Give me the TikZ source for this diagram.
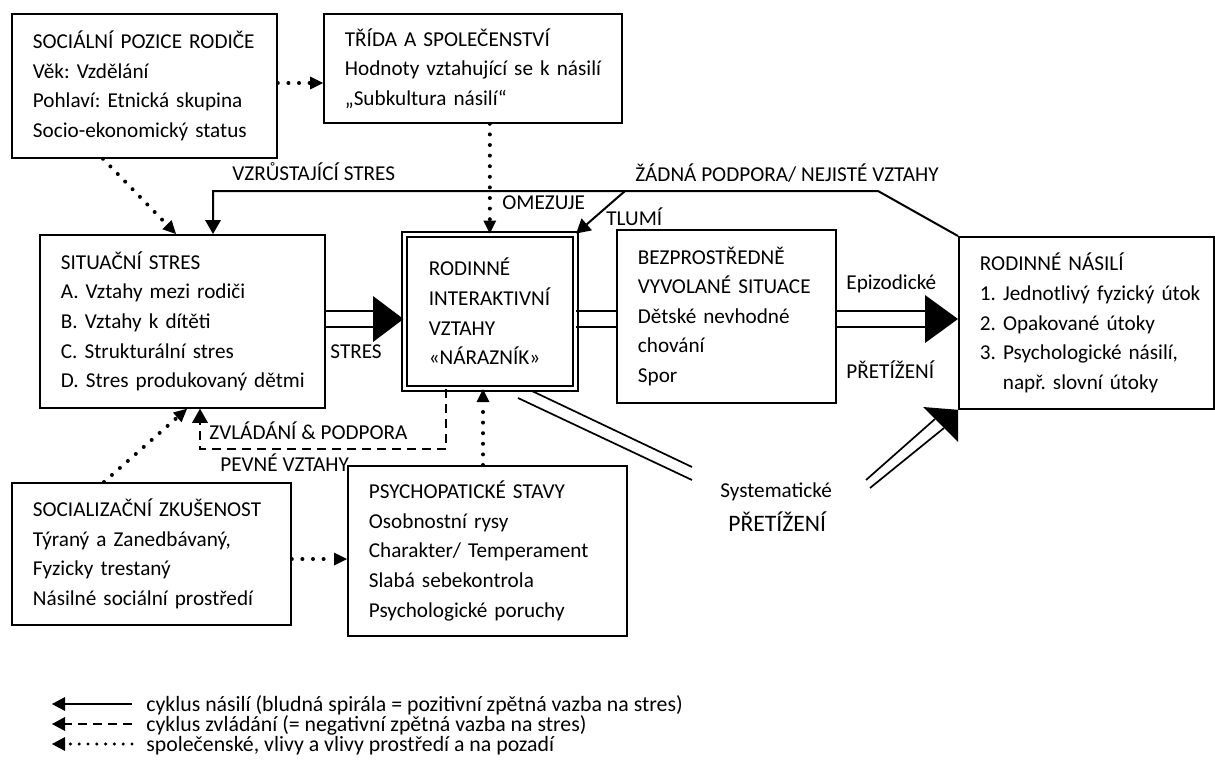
\documentclass[tikz,border=0pt]{standalone}
\usepackage{fontspec}
\setmainfont{Carlito}
\usetikzlibrary{arrows.meta}
\setlength\parindent{0pt}
\frenchspacing
\begin{document}
\begin{tikzpicture}[x=0.5pt,y=-0.5pt,
  font=\fontsize{10.6pt}{14.8pt}\selectfont\frenchspacing,
  box/.style={draw,line width=0.9pt,anchor=north west,align=left,inner xsep=10.5pt,inner ysep=0pt},
  lab/.style={inner sep=0pt,anchor=base west},
  leg/.style={inner sep=0pt,anchor=base west,font=\fontsize{10.9pt}{12pt}\selectfont\frenchspacing},
  dots/.style={line width=2pt,line cap=round,dash pattern=on 0pt off 5.3pt},
  ldots/.style={line width=1.7pt,line cap=round,dash pattern=on 0pt off 4.4pt},
  dtip/.style={-{Triangle[length=6.5pt,width=6.5pt,line width=0pt]}},
  fb/.style={line width=1pt},
  ftip/.style={-{Triangle[length=7pt,width=8pt,line width=0pt]}},
  ltip/.style={-{Triangle[length=6.5pt,width=7pt,line width=0pt]}},
  dsh/.style={line width=1.1pt,dash pattern=on 4.5pt off 3pt},
  twin/.style={line width=0.85pt},
  head/.style={fill=black}]
\fill[white] (0,0) rectangle (1215,760);
\useasboundingbox (0,0) rectangle (1215,760);

% boxes
\node[box,minimum height=72pt,text width=111.5pt] (b1) at (11,13)
  {\mbox{SOCIÁLNÍ POZICE RODIČE}\\\mbox{Věk: Vzdělání}\\\mbox{Pohlaví: Etnická skupina}\\\mbox{Socio-ekonomický status}};
\node[box,minimum height=54.5pt,text width=128pt] (b2) at (323,13)
  {\mbox{TŘÍDA A SPOLEČENSTVÍ}\\\mbox{Hodnoty vztahující se k násilí}\\\mbox{„Subkultura násilí“}};
\node[box,minimum height=86.5pt,text width=121.5pt] (b3) at (39,234)
  {\mbox{SITUAČNÍ STRES}\\\mbox{A. Vztahy mezi rodiči}\\\mbox{B. Vztahy k dítěti}\\\mbox{C. Strukturální stres}\\\mbox{D. Stres produkovaný dětmi}};
\node[box,double,double distance=1.8pt,line width=0.85pt,minimum height=77pt,inner xsep=12.25pt,text width=61pt] (rod) at (403.5,233.5)
  {\mbox{RODINNÉ}\\\mbox{INTERAKTIVNÍ}\\\mbox{VZTAHY}\\\mbox{«NÁRAZNÍK»}};
\node[box,minimum height=86.5pt,text width=88.5pt] (bez) at (616,229)
  {\mbox{BEZPROSTŘEDNĚ}\\\mbox{VYVOLANÉ SITUACE}\\\mbox{Dětské nevhodné}\\\mbox{chování}\\\mbox{Spor}};
\node[box,minimum height=86pt,text width=106.5pt] (rn) at (958,236)
  {\mbox{RODINNÉ NÁSILÍ}\\\mbox{1. Jednotlivý fyzický útok}\\\mbox{2. Opakované útoky}\\\mbox{3. Psychologické násilí,}\\\mbox{\hspace*{11.5pt}např. slovní útoky}};
\node[box,minimum height=71pt,text width=118.5pt] (soc) at (11,482)
  {\mbox{SOCIALIZAČNÍ ZKUŠENOST}\\\mbox{Týraný a Zanedbávaný,}\\\mbox{Fyzicky trestaný}\\\mbox{Násilné sociální prostředí}};
\node[box,minimum height=85pt,text width=118.5pt] (psy) at (347,465)
  {\mbox{PSYCHOPATICKÉ STAVY}\\\mbox{Osobnostní rysy}\\\mbox{Charakter/ Temperament}\\\mbox{Slabá sebekontrola}\\\mbox{Psychologické poruchy}};

% labels
\node[lab] (lvs) at (232,180) {VZRŮSTAJÍCÍ STRES};
\node[lab] (lzp) at (635,181) {ŽÁDNÁ PODPORA/ NEJISTÉ VZTAHY};
\node[lab] (lom) at (502,209) {OMEZUJE};
\node[lab] (ltl) at (606,225) {TLUMÍ};
\node[lab] (lst) at (330,358) {STRES};
\node[lab] (lep) at (846,289) {Epizodické};
\node[lab] (lpr) at (846,378) {PŘETÍŽENÍ};
\node[lab] (lsy) at (720,497) {Systematické};
\node[lab,font=\fontsize{11.8pt}{14pt}\selectfont] (lsp) at (728,531) {PŘETÍŽENÍ};
\node[lab] (lzv) at (209,439) {ZVLÁDÁNÍ \& PODPORA};
\node[lab] (lpv) at (220,471) {PEVNÉ VZTAHY};

% dotted influences
\draw[dots,dtip] (b1.east |- 0,83) -- (b2.west |- 0,83);
\draw[dots,dtip] (rod.north |- b2.south) -- (rod.north);
\draw[dots,dtip] (b1.south -| 103,0) -- (b3.north -| 176,0);
\draw[dots,dtip] (soc.north -| 104,0) -- (b3.south -| 187,0);
\draw[dots,dtip] (psy.north -| 483,0) -- (rod.south -| 483,0);
\draw[dots,dtip] (soc.east |- 0,559) -- (psy.west |- 0,559);

% feedback (solid)
\draw[fb,ftip] (rn.north west) -- (878,191) -- (213,191) -- (b3.north -| 213,0);
\draw[fb,ftip] (625,191) -- (rod.north east);

% coping (dashed)
\draw[dsh,ftip] (rod.south -| 446,0) -- (446,449) -- (200,449) -- (b3.south -| 200,0);

% STRES double arrow
\draw[twin] (b3.east |- 0,311) -- (373,311);
\draw[twin] (b3.east |- 0,327) -- (373,327);
\fill[head] (373,296) -- (rod.west |- 0,319) -- (373,342) -- cycle;

% rod -> bez
\draw[twin] (rod.east |- 0,311) -- (bez.west |- 0,311);
\draw[twin] (rod.east |- 0,327) -- (bez.west |- 0,327);

% bez -> rn (Epizodicke)
\draw[twin] (bez.east |- 0,311) -- (925,311);
\draw[twin] (bez.east |- 0,327) -- (925,327);
\fill[head] (925,295) -- (rn.west |- 0,319) -- (925,343) -- cycle;

% systematic overload
\draw[twin] (532,391) -- (692,467);
\draw[twin] (518,398) -- (692,480);
\draw[twin] (866,480) -- (935,419);
\draw[twin] (870,488) -- (944,428);
\fill[head] (923,407) -- (rn.south west) -- (958,442) -- cycle;

% legend
\draw[fb,ltip] (132,704) -- (52,704);
\draw[dsh,ltip] (132,724) -- (52,724);
\draw[ldots,ltip] (132,744) -- (52,744);
\node[leg] (lg1) at (146,711) {cyklus násilí (bludná spirála = pozitivní zpětná vazba na stres)};
\node[leg] (lg2) at (146,731) {cyklus zvládání (= negativní zpětná vazba na stres)};
\node[leg] (lg3) at (146,751) {společenské, vlivy a vlivy prostředí a na pozadí};
\end{tikzpicture}
\end{document}
